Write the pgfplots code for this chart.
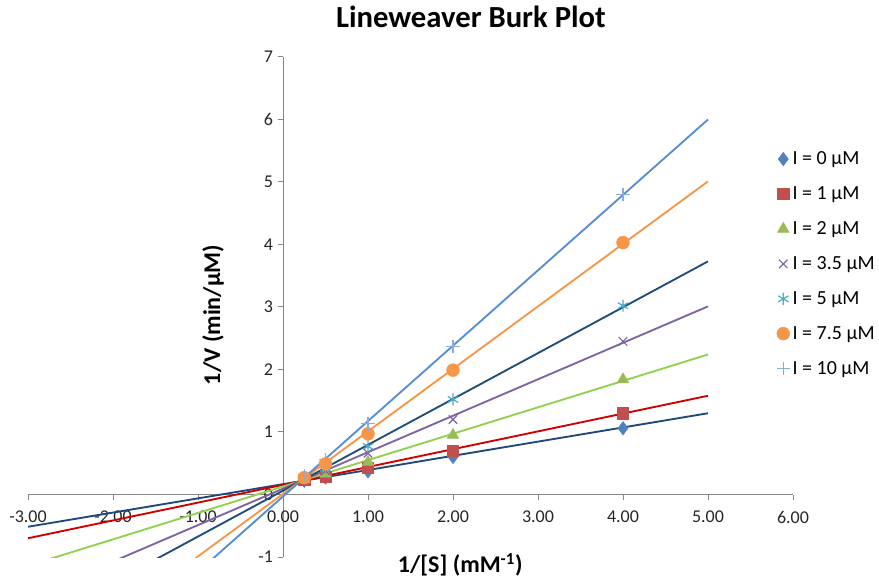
\documentclass[border=0pt]{standalone}
\usepackage{fontspec}
\setmainfont{Carlito}
\usepackage{pgfplots}
\pgfplotsset{compat=1.18}
\definecolor{axisgray}{HTML}{868686}
\definecolor{mA}{HTML}{4F81BD}
\definecolor{mB}{HTML}{C0504D}
\definecolor{mC}{HTML}{9BBB59}
\definecolor{mD}{HTML}{8064A2}
\definecolor{mE}{HTML}{4BACC6}
\definecolor{mF}{HTML}{F79646}
\definecolor{mG}{HTML}{8EA9DB}
\definecolor{lA}{HTML}{1F497D}
\definecolor{lB}{HTML}{D00000}
\definecolor{lC}{HTML}{92D050}
\definecolor{lD}{HTML}{8064A2}
\definecolor{lE}{HTML}{1F4E79}
\definecolor{lF}{HTML}{F79646}
\definecolor{lG}{HTML}{558ED5}
\begin{document}
\begin{tikzpicture}
\begin{axis}[
  scale only axis, width=573.75pt, height=375pt,
  xmin=-3, xmax=6, ymin=-1, ymax=7,
  axis lines=middle,
  hide obscured x ticks=false, hide obscured y ticks=false,
  axis line style={-, draw=axisgray, line width=0.75pt},
  xtick={-3,-2,-1,0,1,2,3,4,5,6},
  ytick={-1,0,1,2,3,4,5,6,7},
  tick align=outside, major tick length=4pt,
  tick style={axisgray, line width=0.75pt},
  /pgf/number format/assume math mode=true,
  xticklabel={\pgfmathprintnumber[fixed,fixed zerofill,precision=2]{\tick}},
  yticklabel={\pgfmathprintnumber[fixed,precision=0]{\tick}},
  ticklabel style={font=\fontsize{13.5}{15}\selectfont, text=black!85},
  xticklabel style={yshift=-5pt},
  title={Lineweaver Burk Plot},
  title style={at={(axis description cs:0.579,1.064)}, anchor=center, font=\fontsize{23}{26}\selectfont\bfseries},
  xlabel={1/[S] (mM\textsuperscript{-1})},
  ylabel={1/V (min/μM)},
  every axis x label/.style={at={(axis description cs:0.565,-0.016)}, anchor=center, font=\fontsize{18}{20}\selectfont\bfseries},
  every axis y label/.style={at={(axis description cs:0.242,0.484)}, anchor=center, rotate=90, font=\fontsize{18}{20}\selectfont\bfseries},
  legend style={at={(axis description cs:0.973,0.822)}, anchor=north west, draw=none, fill=none,
    font=\fontsize{15}{17}\selectfont, row sep=11pt},
  legend cell align=left,
  clip=true,
]
% data points
\addplot[only marks, mark=diamond*, mark size=5pt, mark options={fill=mA, draw=mA}] coordinates {(0.25,0.22) (0.5,0.27) (1,0.37) (2,0.60) (4,1.06)};
\addlegendentry{I = 0 μM}
\addplot[only marks, mark=square*, mark size=4.3pt, mark options={fill=mB, draw=mB}] coordinates {(0.25,0.24) (0.5,0.28) (1,0.43) (2,0.70) (4,1.30)};
\addlegendentry{I = 1 μM}
\addplot[only marks, mark=triangle*, mark size=5pt, mark options={fill=mC, draw=mC}] coordinates {(0.25,0.24) (0.5,0.33) (1,0.52) (2,0.95) (4,1.84)};
\addlegendentry{I = 2 μM}
\addplot[only marks, mark=x, mark size=4.5pt, mark options={draw=mD, line width=0.9pt}] coordinates {(0.25,0.27) (0.5,0.38) (1,0.66) (2,1.20) (4,2.45)};
\addlegendentry{I = 3.5 μM}
\addplot[only marks, mark=asterisk, mark size=4.5pt, mark options={draw=mE, line width=0.9pt}] coordinates {(0.25,0.27) (0.5,0.42) (1,0.77) (2,1.52) (4,3.02)};
\addlegendentry{I = 5 μM}
\addplot[only marks, mark=*, mark size=4.8pt, mark options={fill=mF, draw=mF}] coordinates {(0.25,0.27) (0.5,0.49) (1,0.97) (2,1.99) (4,4.03)};
\addlegendentry{I = 7.5 μM}
\addplot[only marks, mark=+, mark size=5pt, mark options={draw=mG, line width=0.9pt}] coordinates {(0.25,0.30) (0.5,0.56) (1,1.13) (2,2.37) (4,4.80)};
\addlegendentry{I = 10 μM}
% trendlines
\addplot[lA, line width=1.4pt, forget plot] coordinates {(-3,-0.516) (5,1.30)};
\addplot[lB, line width=1.4pt, forget plot] coordinates {(-3,-0.70) (5,1.58)};
\addplot[lC, line width=1.4pt, forget plot] coordinates {(-3,-1.14) (5,2.24)};
\addplot[lD, line width=1.4pt, forget plot] coordinates {(-3,-1.656) (5,3.01)};
\addplot[lE, line width=1.4pt, forget plot] coordinates {(-3,-2.14) (5,3.73)};
\addplot[lF, line width=1.4pt, forget plot] coordinates {(-3,-2.99) (5,5.01)};
\addplot[lG, line width=1.4pt, forget plot] coordinates {(-3,-3.65) (5,6.0)};
\end{axis}
\pgfresetboundingbox
\path ([shift={(-21pt,-18pt)}]current axis.south west) rectangle ([shift={(64.5pt,42.75pt)}]current axis.north east);
\end{tikzpicture}
\end{document}
